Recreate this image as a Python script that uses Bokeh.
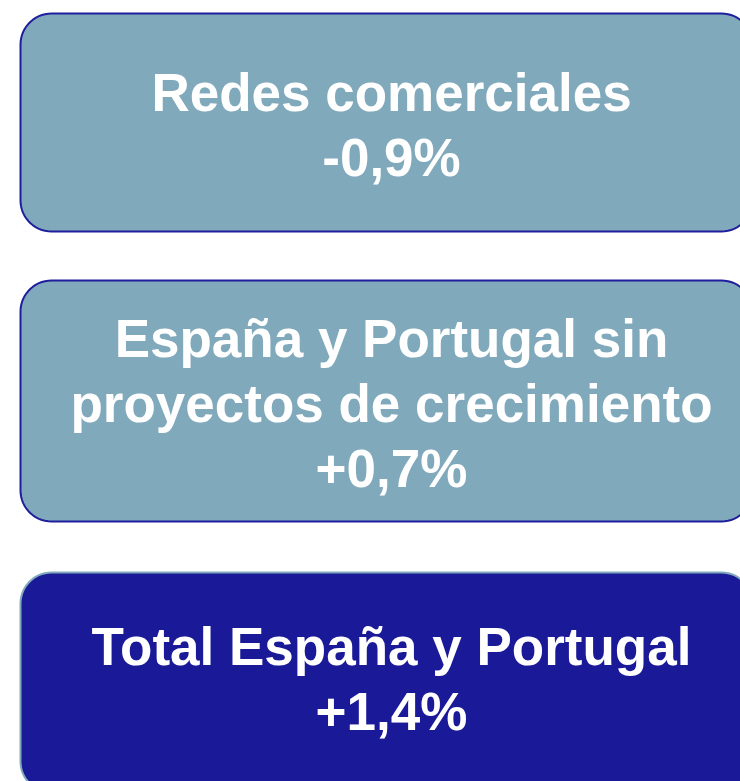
import numpy as np
from bokeh.plotting import figure
from bokeh.models import ColumnDataSource, Range1d
from bokeh.core.properties import value
from bokeh.embed import file_html
from bokeh.resources import INLINE

# ---- data ----
box_titles = [
    ["Redes comerciales"],
    ["España y Portugal sin", "proyectos de crecimiento"],
    ["Total España y Portugal"],
]
box_changes = [-0.9, 0.7, 1.4]
box_highlight = [False, False, True]

# ---- layout / style ----
W, H = 740, 781
LEFT, RIGHT, RADIUS = 20, 752, 31
TOPS = [13, 280, 572]
BOTTOMS = [231, 521, 792]
LINE_GAP = 65
FONT_PX = 53
LIGHT_FILL, LIGHT_LINE = "#80a9bb", "#1f1f9e"
DARK_FILL, DARK_LINE = "#1a1a99", "#80a9bb"


def fmt(v):
    s = f"{v:+.1f}%"
    return s.replace(".", ",")


def rounded_rect(x0, x1, y0, y1, r, n=16):
    xs, ys = [], []
    corners = [
        (x1 - r, y0 + r, -np.pi / 2, 0.0),
        (x1 - r, y1 - r, 0.0, np.pi / 2),
        (x0 + r, y1 - r, np.pi / 2, np.pi),
        (x0 + r, y0 + r, np.pi, 1.5 * np.pi),
    ]
    for cx, cy, a0, a1 in corners:
        t = np.linspace(a0, a1, n)
        xs.extend(cx + r * np.cos(t))
        ys.extend(cy + r * np.sin(t))
    return xs, ys


p = figure(
    width=W, height=H, output_backend="svg", toolbar_location=None,
    x_range=Range1d(0, W), y_range=Range1d(H, 0),
    min_border=0,
)
p.axis.visible = False
p.grid.visible = False
p.outline_line_color = None
p.background_fill_color = "white"
p.border_fill_color = "white"

pxs, pys, fills, lines = [], [], [], []
tx, ty, tt = [], [], []
for titles, ch, hi, top, bot in zip(box_titles, box_changes, box_highlight, TOPS, BOTTOMS):
    xs, ys = rounded_rect(LEFT, RIGHT, top, bot, RADIUS)
    pxs.append(xs)
    pys.append(ys)
    fills.append(DARK_FILL if hi else LIGHT_FILL)
    lines.append(DARK_LINE if hi else LIGHT_LINE)
    rows = titles + [fmt(ch)]
    n = len(rows)
    cy = (top + min(bot, 781)) / 2 + 2
    if hi:
        cy = (top + 790) / 2 - 3
    for i, row in enumerate(rows):
        tx.append((LEFT + RIGHT) / 2 + 5)
        ty.append(cy + (i - (n - 1) / 2) * LINE_GAP)
        tt.append(row)

p.patches(xs="xs", ys="ys", fill_color="fill", line_color="line", line_width=2,
          source=ColumnDataSource(dict(xs=pxs, ys=pys, fill=fills, line=lines)))

p.text(x="x", y="y", text="text", source=ColumnDataSource(dict(x=tx, y=ty, text=tt)),
       text_font=value("Liberation Sans"), text_font_style="bold",
       text_font_size=f"{FONT_PX}px", text_color="white",
       text_align="center", text_baseline="middle")

open("out.html", "w").write(file_html(p, INLINE))
